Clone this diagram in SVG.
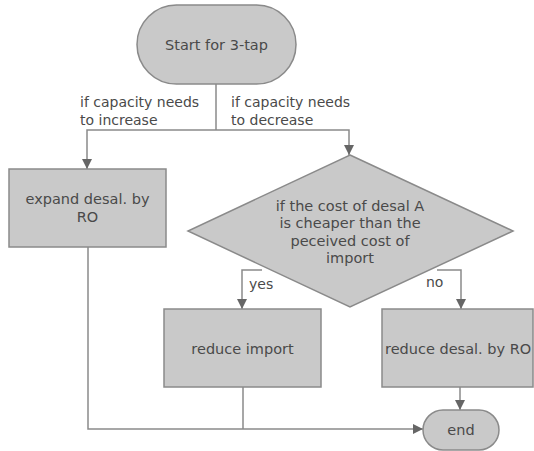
<svg xmlns="http://www.w3.org/2000/svg" width="534" height="451" viewBox="0 0 534 451">
<defs>
<marker id="arr" markerWidth="10" markerHeight="12" refX="10" refY="5" orient="auto" markerUnits="userSpaceOnUse" viewBox="0 0 10 10">
<path d="M0,0 L10,5 L0,10 Z" fill="#666"/>
</marker>
<style>
.n{fill:#c9c9c9;stroke:#8a8a8a;stroke-width:1.5}
.t{font-family:"DejaVu Sans",Verdana,sans-serif;font-size:14.5px;fill:#4a4a4a}
.l{font-size:14px}
.m{text-anchor:middle}
.c{fill:none;stroke:#8a8a8a;stroke-width:1.5}
.a{marker-end:url(#arr)}
</style>
</defs>
<rect width="534" height="451" fill="#fff"/>
<g id="connectors">
<path class="c" d="M216,84 V130"/>
<path class="c a" d="M216,130 H87 V169"/>
<path class="c a" d="M216,130 H349 V155"/>
<path class="c a" d="M262,270 H242 V309"/>
<path class="c a" d="M437,270 H461 V309"/>
<path class="c a" d="M88,247 V429 H423"/>
<path class="c" d="M243,387 V429"/>
<path class="c a" d="M460,387 V410"/>
<text class="t l" x="80" y="107">if capacity needs</text>
<text class="t l" x="80" y="125">to increase</text>
<text class="t l" x="231" y="107">if capacity needs</text>
<text class="t l" x="231" y="125">to decrease</text>
<text class="t l" x="249" y="289">yes</text>
<text class="t l" x="426" y="287">no</text>
</g>
<g id="start">
<rect class="n" x="137" y="5" width="159" height="79" rx="39.5"/>
<text class="t m" x="216.5" y="50">Start for 3-tap</text>
</g>
<g id="expand">
<rect class="n" x="9" y="169" width="157" height="78"/>
<text class="t m" x="87.5" y="204">expand desal. by</text>
<text class="t m" x="87.5" y="222">RO</text>
</g>
<g id="decision">
<polygon class="n" points="350,155 513,231 350,307 188,231"/>
<text class="t m" x="350" y="211">if the cost of desal A</text>
<text class="t m" x="350" y="228">is cheaper than the</text>
<text class="t m" x="350" y="246">peceived cost of</text>
<text class="t m" x="350" y="263">import</text>
</g>
<g id="reduceImport">
<rect class="n" x="164" y="309" width="157" height="78"/>
<text class="t m" x="242.5" y="354">reduce import</text>
</g>
<g id="reduceDesal">
<rect class="n" x="382" y="309" width="151" height="78"/>
<text class="t" x="385" y="354">reduce desal. by RO</text>
</g>
<g id="end">
<rect class="n" x="423" y="410" width="76" height="40" rx="20"/>
<text class="t m" x="461" y="435">end</text>
</g>
</svg>
